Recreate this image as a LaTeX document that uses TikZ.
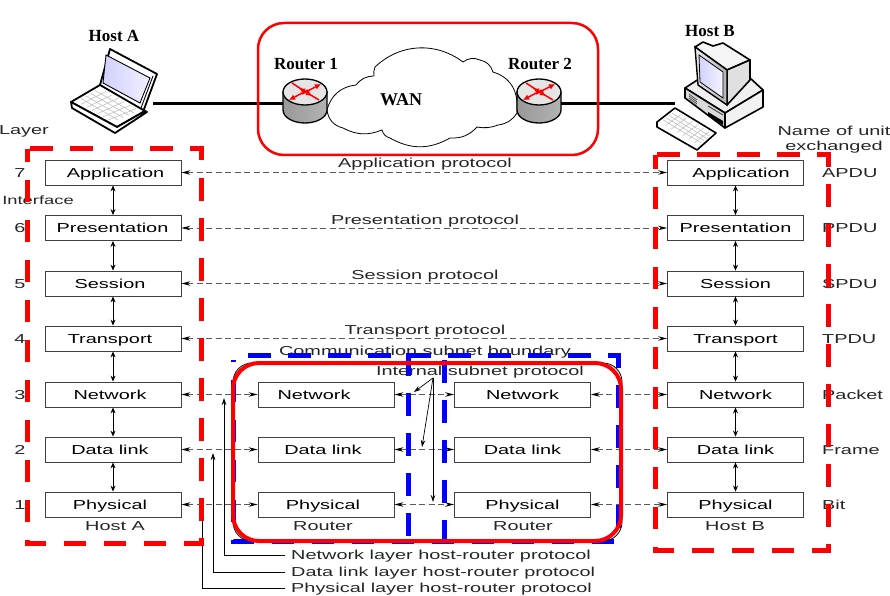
\documentclass[tikz,border=0pt]{standalone}
\usepackage{fontspec}
\setmainfont{Liberation Sans}
\newfontfamily\wideface[FakeStretch=1.53]{Liberation Sans}
\newfontfamily\hostface{Liberation Serif}
\usetikzlibrary{
  arrows.meta,
  calc
}
\definecolor{netred}{RGB}{255, 0, 0}
\definecolor{netblue}{RGB}{0, 0, 255}
\tikzset{
  layerbox/.style={draw=black!75, line width=0.8pt, minimum width=136pt, minimum height=25pt, inner sep=0pt, text height=12pt, text depth=2.5pt, font=\wideface\fontsize{13}{15}\selectfont},
  lbl/.style={font=\wideface\fontsize{13}{15}\selectfont, inner sep=0pt, text height=12pt, text depth=2.5pt, text=black!85},
  hostlbl/.style={font=\hostface\bfseries\fontsize{17}{19}\selectfont, inner sep=0pt},
  peerline/.style={draw=black!65, line width=0.8pt, dash pattern=on 6pt off 3.5pt, {Stealth[length=9pt,width=4.5pt,black]}-{Stealth[length=9pt,width=4.5pt,black]}},
  stackarrow/.style={draw=black, line width=0.9pt, {Stealth[length=6pt,width=5pt]}-{Stealth[length=6pt,width=5pt]}},
  leader/.style={draw=black, line width=0.7pt, -{Stealth[length=7pt,width=4.5pt]}},
  reddash/.style={draw=netred, line width=5pt, dash pattern=on 22.5pt off 17.5pt},
  bluedash/.style={draw=netblue, line width=5pt, dash pattern=on 22.5pt off 17.5pt},
  redframe/.style={draw=netred, rounded corners=26pt},
  routerpic/.pic={
    \path[shade, left color=black!40, middle color=white, right color=black!30, draw=black, line width=1.3pt]
      (-22,0) -- (-22,18) arc[start angle=180, end angle=360, x radius=22, y radius=-13] -- (22,0) -- cycle;
    \draw[line width=1.3pt, fill=black!10] (0,0) ellipse[x radius=22, y radius=13];
    \draw[netred, line width=1.5pt, -{Latex[length=6pt,width=6pt]}] (-13,-9) -- (7,4);
    \draw[netred, line width=1.5pt, -{Latex[length=6pt,width=6pt]}] (14,8) -- (-6,-4);
    \draw[netred, line width=1.5pt, -{Latex[length=6pt,width=6pt]}] (-3,2) -- (16,-8);
    \draw[netred, line width=1.5pt, -{Latex[length=6pt,width=6pt]}] (3,-2) -- (-16,8);
  }
}
\begin{document}
\begin{tikzpicture}[x=1pt, y=-1pt]
\useasboundingbox (0,0) rectangle (890,596);

% host and wan part
\node[hostlbl] (hostAname) at (114,36) {Host A};
\node[hostlbl] (hostBname) at (710,31) {Host B};
\node[hostlbl] (routerOname) at (306,64) {Router 1};
\node[hostlbl] (routerTname) at (540,64) {Router 2};

\coordinate (lapOut) at (153,104);
\coordinate (rtOleft) at (283,104);
\coordinate (rtTright) at (561,104);
\coordinate (pcIn) at (675,104);
\draw[line width=3pt] (lapOut) -- (rtOleft);
\draw[line width=3pt] (rtTright) -- (pcIn);

\draw[line width=0.8pt, fill=white] (327,110) to[bend left=35] (356,85) to[bend left=25] (374,76)
  to[bend left=15] (375,67) to[bend left=40] (463,62) to[bend left=30] (480,60)
  to[bend left=30] (493,72) to[bend left=35] (517,102) -- (517,113)
  to[bend left=25] (498,125) to[bend left=15] (477,127) to[bend left=25] (450,138)
  to[bend left=30] (390,138) to[bend left=30] (382,130) to[bend left=25] (343,128)
  to[bend left=35] (327,110);
\node[hostlbl, font=\hostface\bfseries\fontsize{18}{20}\selectfont] (wan) at (401,100) {WAN};

\pic at (305,92) {routerpic};
\pic at (539,92) {routerpic};

% laptop
\draw[line width=1.8pt, fill=white, line join=round] (110,49) -- (157,74) -- (143,112) -- (100,85) -- cycle;
\path[shade, left color=blue!18, right color=blue!6, draw=black, line width=0.9pt] (106,55) -- (150,78) -- (140,103) -- (103,83) -- cycle;
\draw[line width=0.9pt] (153,76) -- (141,108);
\draw[line width=1.8pt, fill=white, line join=round] (71,102) -- (100,85) -- (145,111) -- (117,127) -- cycle;
\draw[line width=1.8pt, fill=white, line join=round] (71,102) -- (117,127) -- (145,111) -- (147,112) -- (115,133) -- (72,108) -- cycle;
\foreach \t in {0.15,0.3,0.45,0.6,0.75,0.9}
  \draw[black!25, line width=0.6pt] ($(76,101)!\t!(112,122)$) -- ($(100,88)!\t!(140,111)$);
\foreach \t in {0.2,0.4,0.6,0.8}
  \draw[black!25, line width=0.6pt] ($(76,101)!\t!(100,88)$) -- ($(112,122)!\t!(140,111)$);

% desktop
\draw[line width=1.6pt, fill=black!6, line join=round] (685,88) -- (705,75) -- (750,78) -- (763,90) -- (725,113) -- cycle;
\draw[line width=1.6pt, fill=black!15, line join=round] (685,88) -- (725,113) -- (725,128) -- (685,98) -- cycle;
\draw[line width=1.6pt, fill=black!5, line join=round] (725,113) -- (763,90) -- (763,107) -- (725,128) -- cycle;
\draw[line width=1.6pt, fill=black!4, line join=round] (695,47) -- (703,42) -- (713,46) -- (723,43) -- (750,60) -- (727,70) -- cycle;
\draw[line width=1.6pt, fill=black!12, line join=round] (727,70) -- (750,60) -- (750,80) -- (727,105) -- cycle;
\path[shade, left color=black!8, right color=black!30, draw=black, line width=1.4pt] (695,47) -- (727,70) -- (727,105) -- (698,85) -- cycle;
\path[shade, left color=blue!18, right color=blue!4, draw=black, line width=0.8pt] (699,55) -- (723,72) -- (723,98) -- (700,82) -- cycle;
\draw[line width=1.6pt, fill=white, line join=round] (657,122) -- (675,108) -- (716,133) -- (697,150) -- (657,127) -- cycle;
\foreach \t in {0.2,0.4,0.6,0.8}
  \draw[black!25, line width=0.6pt] ($(660,122)!\t!(675,111)$) -- ($(698,145)!\t!(713,134)$);
\foreach \t in {0.15,0.3,0.45,0.6,0.75,0.9}
  \draw[black!25, line width=0.6pt] ($(660,122)!\t!(698,145)$) -- ($(675,111)!\t!(713,134)$);
\draw[fill=black, draw=none] (708,112) -- (723,121) -- (723,125) -- (708,116) -- cycle;
\draw[black!70, line width=1pt] (708,106) -- (723,115);
\foreach \t in {0,2,4,6}
  \draw[black!70, line width=0.7pt] (689,94+\t) -- (697,100+\t);

% host stacks
\foreach \row/\yy/\txt/\pdu/\num/\offa/\offb in {7/172.5/Application/APDU/7/5/11, 6/228/Presentation/PPDU/6/-1/0, 5/283.5/Session/SPDU/5/-6/0, 4/338.5/Transport/TPDU/4/-6/0, 3/394.5/Network/Packet/3/-6/0, 2/449.5/Data link/Frame/2/-6/0, 1/504.5/Physical/Bit/1/-6/0} {
  \node[layerbox] (a\row) at (113,\yy) {\hspace*{\offa pt}\txt};
  \node[layerbox] (b\row) at (735.5,\yy) {\hspace*{\offb pt}\txt};
  \node[lbl, anchor=west] (pdu\row) at (822,\yy) {\pdu};
  \node[lbl] (num\row) at (20,\yy) {\num};
}
\foreach \lower/\upper in {1/2,2/3,3/4,4/5,5/6,6/7} {
  \draw[stackarrow] (a\lower) -- (a\upper);
  \draw[stackarrow] (b\lower) -- (b\upper);
}
\foreach \row in {7,6,5,4}
  \draw[peerline] (a\row) -- (b\row);

% routers
\foreach \row/\yy/\txt/\offp in {3/394.5/Network/-24, 2/449.5/Data link/-6, 1/504.5/Physical/-6} {
  \node[layerbox] (p\row) at (326,\yy) {\hspace*{\offp pt}\txt};
  \node[layerbox] (q\row) at (522.5,\yy) {\txt};
  \draw[peerline] (a\row) -- (p\row);
  \draw[peerline] (p\row) -- (q\row);
  \draw[peerline] (q\row) -- (b\row);
}

% labels
\node[lbl] (layerlbl) at (24,130) {Layer};
\node[lbl, font=\wideface\fontsize{12}{14}\selectfont] (ifacelbl) at (38,200) {Interface};
\node[lbl, align=center] (unitlbl) at (834,146) {Name of unit\\exchanged};
\node[lbl] (applbl) at (425,163) {Application protocol};
\node[lbl] (preslbl) at (425,220) {Presentation protocol};
\node[lbl] (seslbl) at (425,275) {Session protocol};
\node[lbl] (translbl) at (425,330) {Transport protocol};
\node[lbl] (commlbl) at (425,351) {Communication subnet boundary};
\node[lbl] (intlbl) at (480,371) {Internal subnet protocol};
\node[lbl] (hostAlbl) at (115,526) {Host A};
\node[lbl] (hostBlbl) at (735,526) {Host B};
\node[lbl] (routerAlbl) at (323,526) {Router};
\node[lbl] (routerBlbl) at (523,526) {Router};
\node[lbl, anchor=west] (netlbl) at (291,555) {Network layer host-router protocol};
\node[lbl, anchor=west] (datalbl) at (291,572) {Data link layer host-router protocol};
\node[lbl, anchor=west] (phylbl) at (291,588) {Physical layer host-router protocol};

% leaders
\coordinate (nettip) at (224,398);
\coordinate (datatip) at (213,453);
\coordinate (phytip) at (202,512);
\draw[leader] (netlbl.west) ++(-6,0) -| (nettip);
\draw[leader] (datalbl.west) ++(-6,0) -| (datatip);
\draw[leader] (phylbl.west) ++(-6,0) -| (phytip);
\coordinate (intfrom) at (433,378);
\coordinate (inttipA) at (414,392);
\coordinate (inttipB) at (422,447);
\coordinate (inttipC) at (433,502);
\draw[leader] (intfrom) -- (inttipA);
\draw[leader] (intfrom) -- (inttipB);
\draw[leader] (intfrom) -- (inttipC);

% frames on top
\draw[reddash] (30,149) -- (201,149) -- (201,543) -- (27,543) -- (27,149);
\draw[reddash] (657,155) -- (828,155) -- (828,550) -- (655,550) -- (655,155);
\draw[bluedash] (248,355) -- (618,355) -- (618,541) -- (233,541) -- (233,360);
\draw[bluedash] (408,353) -- (408,541);
\draw[bluedash] (444,360) -- (444,543);
\draw[black, line width=0.8pt, rounded corners=19pt] (233,363) rectangle (622,541);
\draw[redframe, line width=4pt] (233,363) rectangle (621,541);
\draw[redframe, line width=2.5pt] (258,23) rectangle (598,155);
\end{tikzpicture}
\end{document}
